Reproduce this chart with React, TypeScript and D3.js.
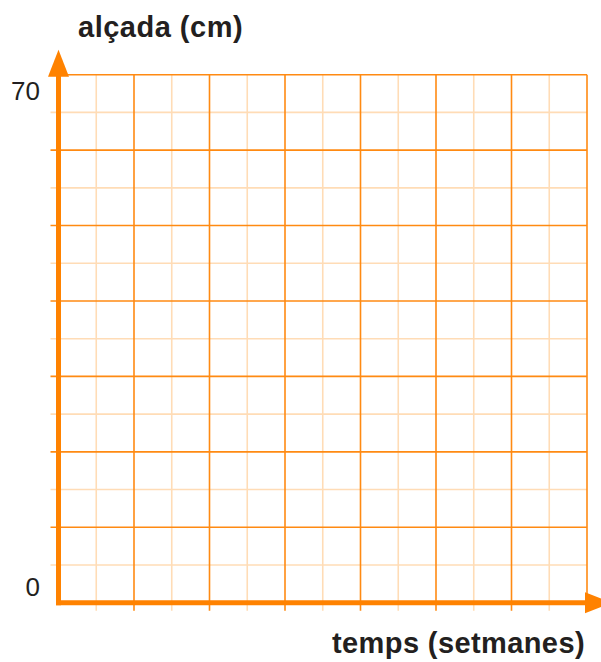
import React, { useRef, useEffect } from 'react';
import * as d3 from 'd3';

// axis ranges (weeks on x, cm on y)
const xDomain: [number, number] = [0, 14];
const yDomain: [number, number] = [0, 70];
const xMinorStep = 1;
const xMajorStep = 2;
const yMinorStep = 5;
const yMajorStep = 10;
const yTickLabels = [70, 0];
const yTitle = 'alçada (cm)';
const xTitle = 'temps (setmanes)';

const App: React.FC = () => {
  const svgRef = useRef<SVGSVGElement>(null);

  useEffect(() => {
    if (!svgRef.current) return;
    const svg = d3.select(svgRef.current);
    svg.selectAll('*').remove();

    const W = 601;
    const H = 662;
    const left = 58.5;
    const right = 587;
    const top = 74.7;
    const bottom = 602.7;

    svg.attr('width', W).attr('height', H);

    const x = d3.scaleLinear().domain(xDomain).range([left, right]);
    const y = d3.scaleLinear().domain(yDomain).range([bottom, top]);

    const minorColor = '#ffdcb6';
    const majorColor = '#ff8a12';
    const axisColor = '#ff8200';
    const textColor = '#231f20';
    const font = '"Liberation Sans", Arial, Helvetica, sans-serif';

    const xMinor = d3.range(xDomain[0], xDomain[1] + 0.001, xMinorStep).filter(v => v % xMajorStep !== 0);
    const xMajor = d3.range(xDomain[0] + xMajorStep, xDomain[1] + 0.001, xMajorStep);
    const yMinor = d3.range(yDomain[0], yDomain[1] + 0.001, yMinorStep).filter(v => v % yMajorStep !== 0);
    const yMajor = d3.range(yDomain[0] + yMajorStep, yDomain[1] + 0.001, yMajorStep);

    const grid = svg.append('g');

    // minor grid
    grid.selectAll('.vminor')
      .data(xMinor)
      .join('line')
      .attr('x1', d => x(d)).attr('x2', d => x(d))
      .attr('y1', top).attr('y2', bottom + 8)
      .attr('stroke', minorColor).attr('stroke-width', 1.6);

    grid.selectAll('.hminor')
      .data(yMinor)
      .join('line')
      .attr('x1', left - 8).attr('x2', right)
      .attr('y1', d => y(d)).attr('y2', d => y(d))
      .attr('stroke', minorColor).attr('stroke-width', 1.6);

    // major grid
    grid.selectAll('.vmajor')
      .data(xMajor)
      .join('line')
      .attr('x1', d => x(d)).attr('x2', d => x(d))
      .attr('y1', top).attr('y2', d => (d === xDomain[1] ? bottom : bottom + 8))
      .attr('stroke', majorColor).attr('stroke-width', 1.6);

    grid.selectAll('.hmajor')
      .data(yMajor)
      .join('line')
      .attr('x1', left - 8).attr('x2', right)
      .attr('y1', d => y(d)).attr('y2', d => y(d))
      .attr('stroke', majorColor).attr('stroke-width', 1.6);

    // axes
    svg.append('line')
      .attr('x1', left).attr('x2', left)
      .attr('y1', bottom + 2.5).attr('y2', top)
      .attr('stroke', axisColor).attr('stroke-width', 5);

    svg.append('line')
      .attr('x1', left - 2.5).attr('x2', right)
      .attr('y1', bottom).attr('y2', bottom)
      .attr('stroke', axisColor).attr('stroke-width', 5);

    // arrows
    svg.append('path')
      .attr('d', `M${left - 10.5},${top + 2} L${left + 10.5},${top + 2} L${left},${top - 25} Z`)
      .attr('fill', axisColor);

    svg.append('path')
      .attr('d', `M${right - 2},${bottom - 10.5} L${right - 2},${bottom + 10.5} L${right + 25},${bottom} Z`)
      .attr('fill', axisColor);

    // y tick labels
    svg.selectAll('.ylabel')
      .data(yTickLabels)
      .join('text')
      .attr('x', 40)
      .attr('y', d => y(d) + (d === yDomain[1] ? 16.5 : -15.5))
      .attr('dy', '0.35em')
      .attr('text-anchor', 'end')
      .style('font-family', font)
      .style('font-size', '26px')
      .style('fill', textColor)
      .text(d => d);

    // titles
    svg.append('text')
      .attr('x', 78)
      .attr('y', 37)
      .style('font-family', font)
      .style('font-weight', 'bold')
      .style('font-size', '29px')
      .style('letter-spacing', '0.5px')
      .style('fill', textColor)
      .text(yTitle);

    svg.append('text')
      .attr('x', 585)
      .attr('y', 653)
      .attr('text-anchor', 'end')
      .style('font-family', font)
      .style('font-weight', 'bold')
      .style('font-size', '29px')
      .style('letter-spacing', '0.4px')
      .style('fill', textColor)
      .text(xTitle);
  }, []);

  return <svg ref={svgRef} style={{ position: 'absolute', left: 0, top: 0, display: 'block' }}></svg>;
};

export default App;
